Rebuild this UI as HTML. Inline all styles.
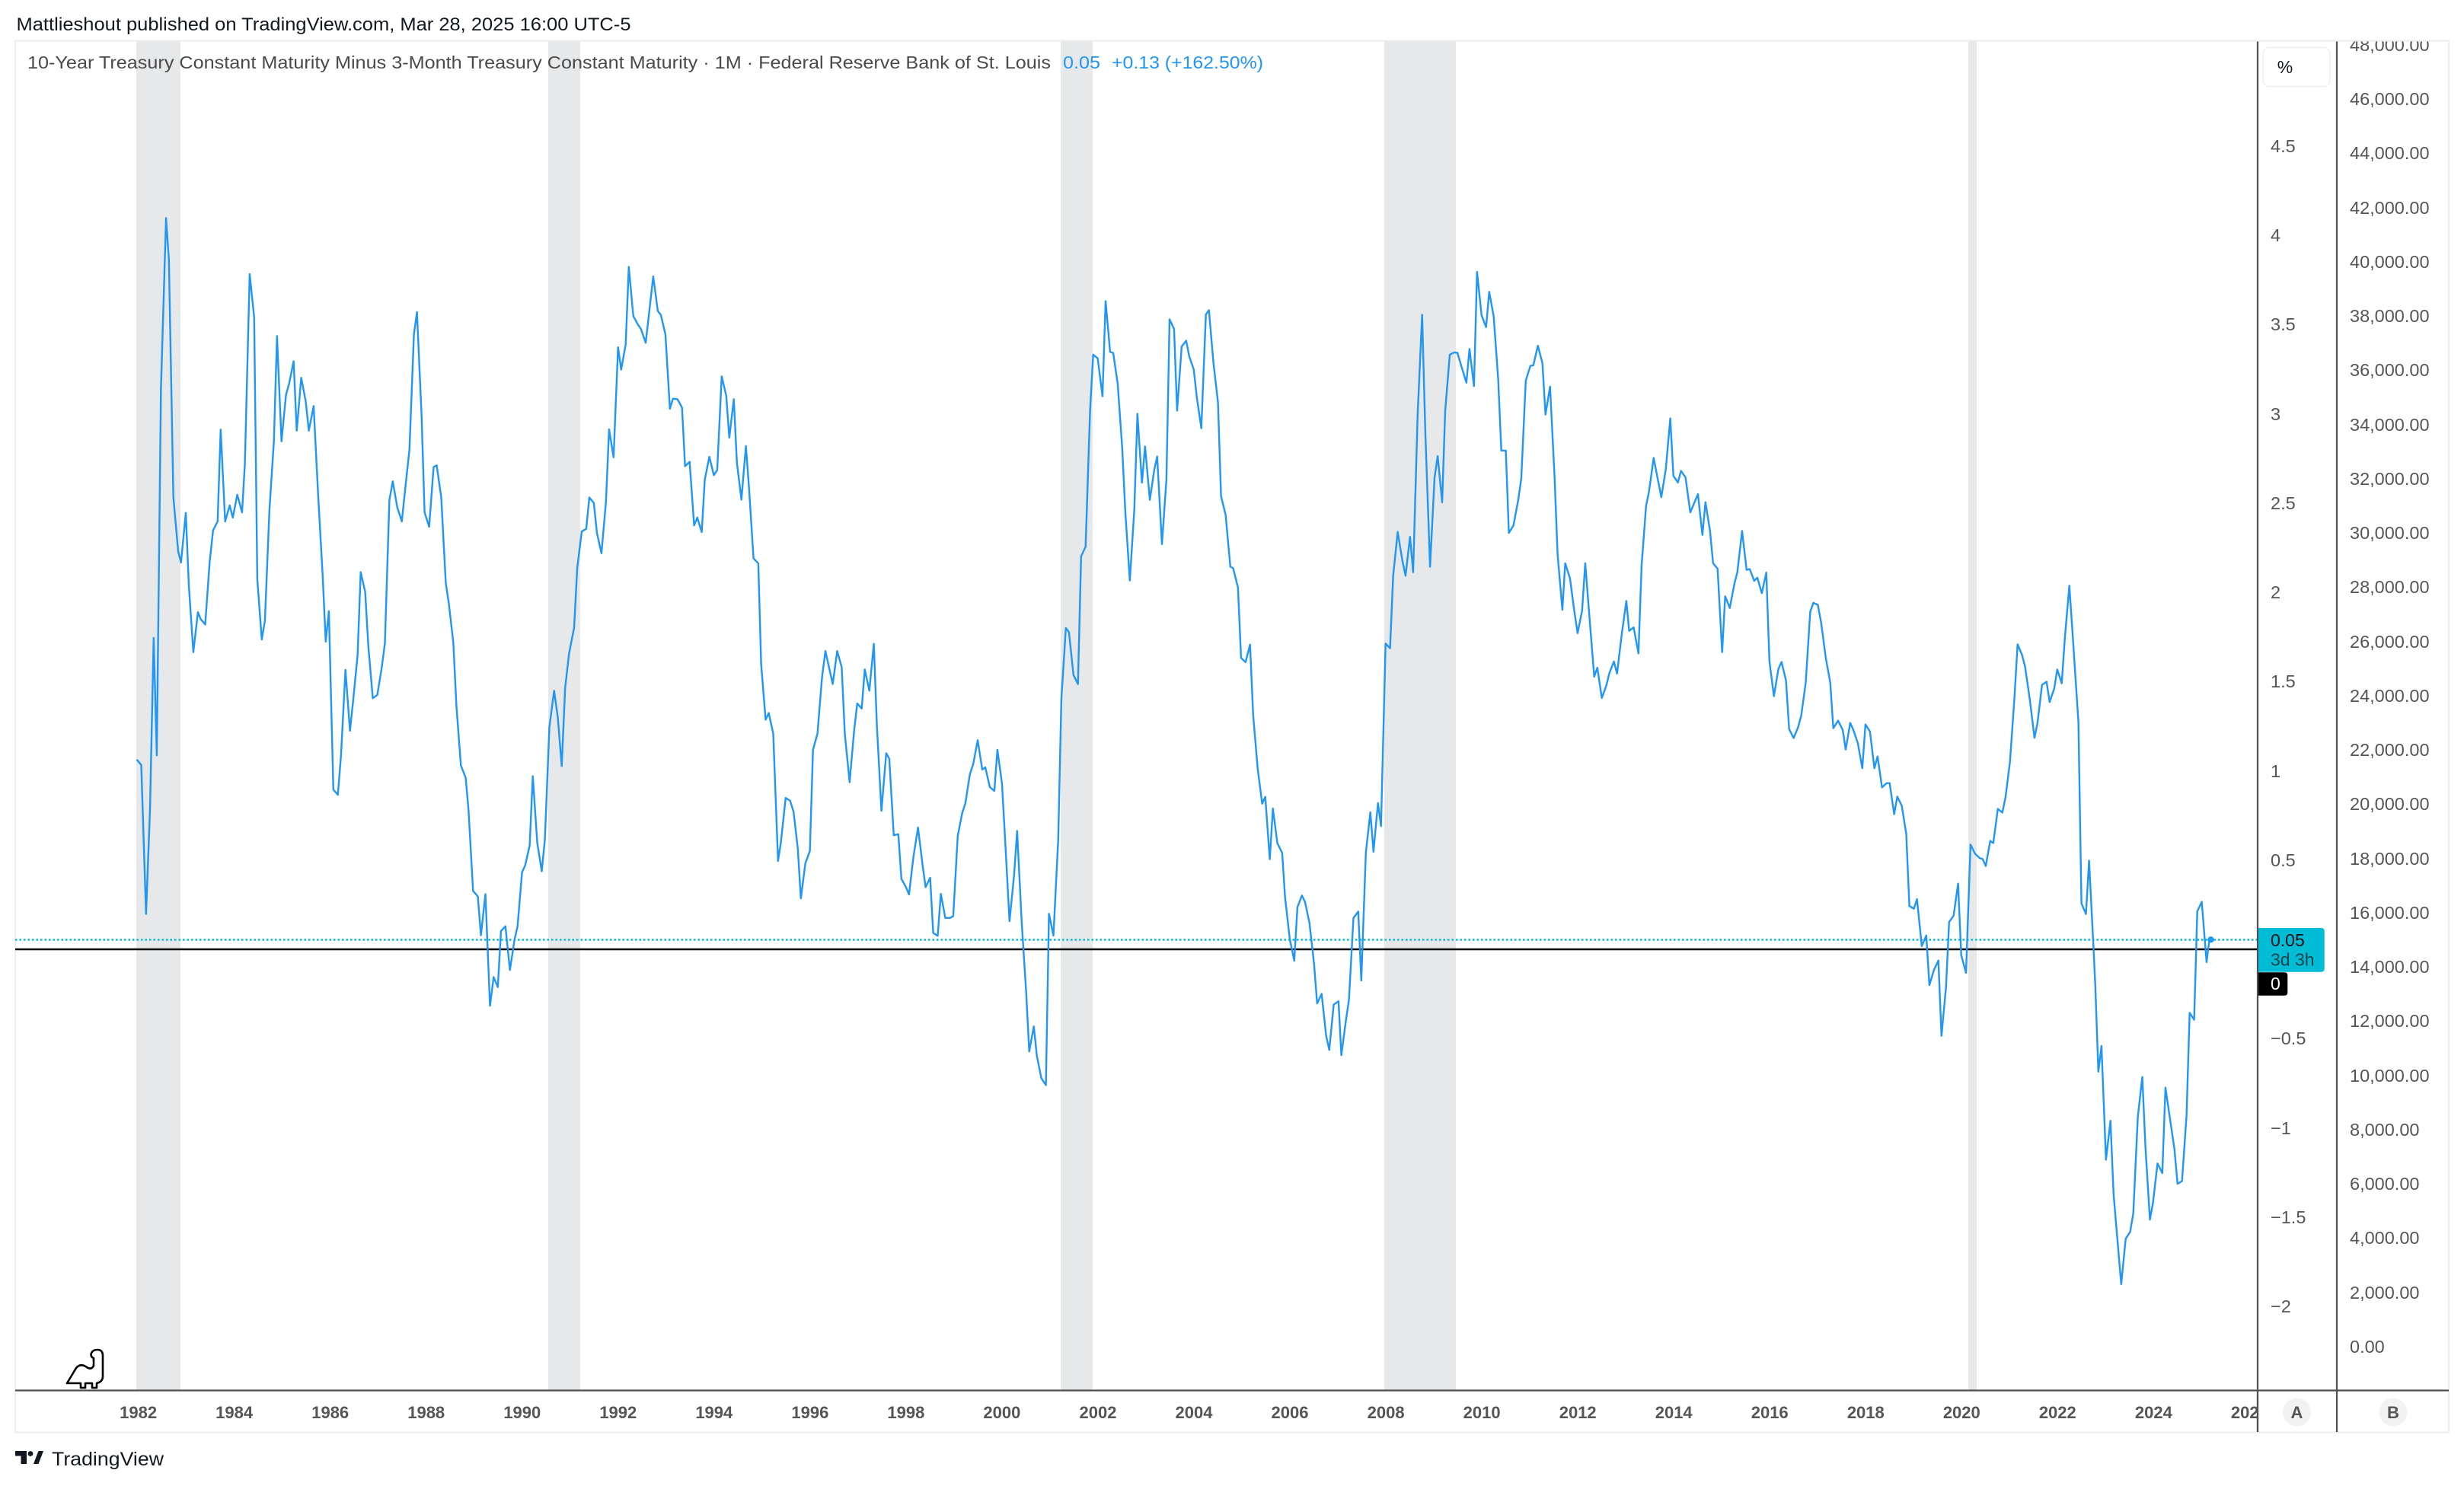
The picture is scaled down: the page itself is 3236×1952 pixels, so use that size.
<!DOCTYPE html>
<html><head><meta charset="utf-8"><style>
html,body{margin:0;padding:0;background:#fff;}
svg{display:block;}
text{font-family:"Liberation Sans",Arial,sans-serif;}
</style></head><body>
<svg width="3236" height="1952" viewBox="0 0 3236 1952" xmlns="http://www.w3.org/2000/svg">
<rect x="0" y="0" width="3236" height="1952" fill="#ffffff"/>
<!-- recession bands -->
<g fill="#e7e8ea">
<rect x="179" y="54" width="58" height="1772"/>
<rect x="720" y="54" width="42" height="1772"/>
<rect x="1393" y="54" width="42" height="1772"/>
<rect x="1818" y="54" width="94" height="1772"/>
<rect x="2585" y="54" width="11" height="1772"/>
</g>
<!-- frame -->
<rect x="20" y="53.5" width="3196" height="1828" fill="none" stroke="#eeeeee" stroke-width="2"/>
<!-- zero line and last value line -->
<line x1="20" y1="1247" x2="2965" y2="1247" stroke="#000" stroke-width="2.5"/>
<line x1="20" y1="1234.5" x2="2965" y2="1234.5" stroke="#00bcd4" stroke-width="2.5" stroke-dasharray="2.5 3"/>
<!-- series -->
<polyline fill="none" stroke="#2196f3" stroke-width="2.4" stroke-linejoin="round" points="
179.6,997.8 185.5,1004.8 191.8,1200.6 197.0,1063.8 201.8,837.9 205.9,992.2 211.4,509.6 218.1,286.5 221.8,341.2 227.7,653.4 234.0,724.2 237.7,739.0 244.0,673.7 248.0,769.1 253.9,856.8 259.9,804.2 263.6,813.3 269.5,820.3 275.4,737.6 279.8,696.9 285.8,684.9 289.8,564.3 295.7,684.9 301.7,663.9 305.7,680.0 311.6,649.9 317.9,673.0 321.6,609.2 327.9,360.1 333.8,417.0 337.9,760.7 343.8,840.0 347.9,815.4 353.8,670.9 359.7,579.7 363.8,441.5 369.7,579.7 375.6,518.7 379.7,504.0 385.6,474.5 389.7,565.7 395.6,496.2 401.5,527.1 405.6,565.7 411.9,533.4 417.8,649.9 423.7,755.1 427.8,842.8 431.9,802.8 437.8,1037.1 443.7,1044.1 447.8,992.9 453.7,880.0 459.6,959.9 463.7,921.4 469.6,861.0 473.7,751.6 479.6,777.5 483.7,848.4 489.6,917.2 495.5,912.9 501.4,876.5 505.5,844.9 511.4,656.9 515.8,632.3 521.8,666.7 527.7,684.9 533.6,628.8 537.7,590.9 543.6,439.4 547.6,409.9 553.6,544.6 557.6,673.0 563.6,692.0 569.5,613.4 573.5,611.3 579.5,653.4 585.4,765.6 589.4,792.3 595.4,844.9 599.4,927.0 605.3,1005.5 611.6,1021.7 615.3,1063.8 621.3,1170.4 627.5,1177.4 631.6,1228.6 637.5,1174.6 643.5,1321.2 648.3,1283.4 653.8,1296.7 657.9,1223.0 663.8,1216.7 669.7,1274.2 675.6,1235.0 679.7,1216.7 685.6,1145.9 689.7,1136.7 695.6,1110.8 699.7,1019.6 705.6,1107.3 711.5,1144.5 715.6,1102.4 721.5,955.0
727.7,907.3 732.6,942.5 737.7,1006.3 742.2,903.6 747.3,858.9 754.0,824.4 758.1,745.9 764.0,698.2 769.9,694.6 774.0,653.5 779.9,660.8 784.0,700.4 789.9,726.8 795.8,659.4 799.9,564.0 805.8,600.7 811.7,456.2 815.8,485.6 821.7,452.6 825.8,350.6 831.7,415.1 837.6,426.1 841.7,432.0 848.0,450.3 857.9,363.1 863.9,408.5 867.9,413.7 873.9,439.3 879.8,536.9 883.8,523.7 889.8,524.4 895.7,535.4 899.7,612.4 905.7,606.6 911.6,690.2 915.7,679.9 921.6,699.0 925.6,630.0 931.6,600.0 937.5,624.2 941.9,617.6 947.8,494.4 953.8,520.0 957.8,575.0 963.7,524.4 967.8,608.0 973.7,656.4 979.6,586.0 983.7,641.0 989.6,733.4 995.9,740.1 999.6,872.1 1005.5,945.4 1009.6,936.6 1015.5,963.7 1021.8,1131.0 1025.5,1106.8 1031.8,1048.1 1037.7,1051.8 1042.2,1066.4 1047.7,1114.1 1051.8,1180.1 1057.7,1133.9 1063.6,1117.8 1067.7,985.0 1073.6,963.7 1079.5,890.4 1084.0,855.2 1093.6,898.5 1099.5,855.2 1105.4,876.5 1109.5,963.7 1115.8,1027.5 1121.7,960.1 1125.8,924.1 1131.7,930.7 1135.7,879.4 1141.7,907.3 1147.6,845.7 1151.6,952.7 1157.6,1065.0 1163.9,989.4 1167.9,996.7 1173.8,1097.2 1179.8,1095.8 1183.8,1154.4 1189.8,1165.4 1193.8,1175.0 1199.7,1125.1 1205.6,1087.0 1211.6,1136.1 1215.6,1165.4 1221.6,1153.0 1225.6,1225.6 1231.5,1229.2 1235.6,1174.2 1241.5,1205.8 1247.5,1205.8 1251.9,1203.6 1257.8,1098.0 1263.7,1067.9 1267.8,1055.4 1273.7,1017.3
1278.1,1003.8 1284.0,972.3 1290.0,1010.8 1294.0,1008.0 1300.0,1034.0 1305.9,1038.9 1309.9,984.9 1315.9,1029.1 1319.9,1100.6 1325.8,1210.1 1331.8,1149.7 1335.8,1091.5 1341.7,1209.4 1347.7,1304.1 1351.7,1381.2 1357.7,1348.3 1361.7,1386.9 1367.6,1416.3 1373.6,1425.4 1377.6,1200.3 1383.5,1229.0 1389.8,1102.0 1393.9,918.2 1399.8,824.9 1403.9,830.5 1409.8,886.7 1415.7,898.6 1419.8,730.9 1425.7,718.3 1431.6,539.4 1435.7,465.8 1441.6,470.7 1447.9,520.5 1452.0,395.6 1457.9,462.2 1462.0,463.6 1467.9,504.3 1473.8,588.5 1477.9,672.7 1483.8,762.5 1489.7,669.2 1493.8,543.6 1499.7,634.1 1503.8,586.4 1510.1,656.6 1516.0,616.6 1519.7,599.7 1526.0,714.8 1531.9,629.2 1536.0,419.5 1541.9,432.1 1545.9,539.4 1551.9,455.2 1557.8,447.5 1561.8,467.9 1567.8,485.4 1571.8,521.9 1577.7,562.6 1583.7,413.1 1587.7,407.5 1593.6,476.3 1599.6,528.9 1603.6,651.7 1609.6,676.2 1615.8,744.3 1619.5,746.4 1625.8,771.6 1629.9,864.2 1635.8,869.8 1641.7,846.7 1645.8,939.3 1651.7,1009.4 1657.6,1055.7 1661.7,1046.6 1667.6,1128.7 1671.7,1062.1 1677.6,1107.7 1683.9,1120.3 1687.6,1177.8 1693.9,1233.9 1699.8,1262.0 1703.9,1191.8 1709.8,1176.4 1713.9,1184.8 1719.8,1212.9 1725.7,1265.5 1729.8,1318.1 1735.7,1305.5 1741.6,1360.2 1745.7,1379.1 1751.6,1319.5 1757.9,1315.3 1761.6,1386.2 1767.5,1341.3 1771.6,1313.2 1777.5,1205.9 1783.8,1197.4 1787.8,1287.9 1793.8,1119.6 1799.7,1067.0 1803.8,1118.9 1809.7,1055.0 1813.7,1085.2 1819.7,845.3 1825.6,851.6 1829.6,756.9 1835.6,698.7
1841.8,736.8 1845.9,756.2 1851.8,705.2 1855.9,751.6 1861.8,544.5 1867.7,413.4 1871.8,564.9 1878.1,744.5 1884.0,627.7 1888.1,599.1 1894.0,659.8 1898.0,539.4 1904.0,465.9 1909.9,462.9 1914.0,463.4 1919.9,483.3 1925.8,502.7 1929.9,458.3 1935.8,507.2 1939.8,357.2 1945.8,414.4 1951.7,429.7 1955.8,383.3 1961.7,415.9 1967.6,498.6 1971.7,591.9 1977.6,591.9 1981.6,700.1 1987.6,690.4 1993.9,656.7 1997.9,628.7 2003.8,500.1 2009.8,480.7 2013.8,479.7 2019.7,454.2 2025.7,477.1 2029.7,544.5 2035.7,507.8 2041.6,626.1 2045.6,728.2 2051.9,801.1 2055.6,739.9 2061.9,759.8 2067.8,804.7 2071.9,831.7 2077.8,802.1 2081.9,739.9 2087.8,814.9 2093.7,888.9 2097.8,877.1 2103.7,916.9 2109.6,900.6 2113.7,883.8 2119.6,869.0 2123.7,884.8 2129.6,835.3 2135.9,789.4 2139.6,828.7 2145.5,824.1 2151.8,858.3 2155.9,743.5 2161.8,664.4 2165.5,646.5 2171.8,601.6 2177.7,632.2 2181.8,653.2 2187.7,616.4 2193.6,549.6 2197.7,625.1 2203.6,633.8 2207.7,618.5 2213.6,627.1 2219.9,673.1 2229.9,649.1 2235.8,702.7 2239.8,659.8 2245.8,697.5 2249.8,739.9 2255.7,747.0 2261.7,856.7 2265.7,783.3 2271.7,798.6 2277.9,766.4 2281.6,752.1 2287.9,697.5 2293.8,748.6 2297.9,747.5 2303.8,762.9 2307.9,758.8 2313.8,779.2 2319.7,752.1 2323.8,868.5 2329.7,914.4 2335.6,878.7 2339.7,869.5 2345.6,894.0 2349.7,957.8 2355.6,969.5 2361.5,955.2 2365.6,939.9 2371.5,896.5 2377.4,803.7 2381.5,791.9 2387.4,794.5
2391.8,818.4 2397.8,864.0 2403.7,896.9 2407.7,956.6 2414.0,946.7 2420.0,958.7 2424.0,984.6 2429.9,949.6 2434.0,958.7 2439.9,976.2 2445.8,1009.2 2449.9,951.7 2455.8,960.8 2461.7,1009.2 2465.8,993.7 2471.7,1034.4 2477.7,1028.8 2481.7,1028.8 2487.6,1069.5 2491.7,1046.4 2497.6,1058.3 2503.5,1095.5 2507.6,1190.2 2513.5,1193.7 2517.6,1181.1 2523.9,1242.8 2529.8,1228.8 2533.9,1294.0 2539.8,1274.4 2545.7,1261.7 2549.8,1360.7 2555.7,1296.8 2559.8,1211.2 2565.7,1202.8 2571.6,1160.7 2575.7,1254.7 2582.0,1277.9 2587.9,1109.5 2593.8,1121.4 2599.7,1127.0 2603.8,1128.4 2607.9,1137.6 2613.8,1104.6 2617.8,1107.4 2623.8,1062.5 2629.7,1067.4 2633.8,1047.8 2639.7,1000.8 2645.6,916.6 2649.7,846.4 2655.6,860.5 2659.6,875.9 2665.9,920.1 2671.9,969.2 2675.9,949.6 2681.8,899.7 2687.8,895.5 2691.8,922.2 2697.8,904.7 2701.8,879.4 2707.7,897.6 2711.8,838.0 2717.7,769.3 2723.6,857.0 2729.6,948.2 2733.6,1186.7 2739.5,1200.7 2743.6,1130.5 2749.5,1246.3 2751.8,1295.4 2755.8,1407.7 2759.9,1374.0 2765.8,1523.4 2771.7,1472.2 2775.8,1569.0 2785.8,1686.9 2791.7,1627.2 2797.6,1618.1 2801.7,1593.6 2807.6,1467.3 2813.5,1414.7 2817.6,1505.9 2823.5,1602.0 2827.6,1579.5 2833.5,1528.3 2839.8,1540.9 2843.9,1428.7 2855.7,1509.4 2859.8,1555.0 2865.7,1551.5 2871.6,1465.2 2875.7,1330.5 2881.6,1339.6 2885.7,1197.2 2891.6,1184.6 2897.9,1263.8 2901.6,1234.4 2904.5,1234.0"/>
<circle cx="2903.5" cy="1234.3" r="4.2" fill="#2196f3"/>

<!-- axis lines -->
<line x1="20" y1="1826.5" x2="3216" y2="1826.5" stroke="#505050" stroke-width="2.2"/>
<line x1="2965" y1="54" x2="2965" y2="1881" stroke="#505050" stroke-width="2.2"/>
<line x1="3069" y1="54" x2="3069" y2="1881" stroke="#505050" stroke-width="2.2"/>

<!-- time axis labels -->
<g font-size="22" font-weight="bold" fill="#555" text-anchor="middle">
<text x="181.6" y="1863">1982</text>
<text x="307.6" y="1863">1984</text>
<text x="433.7" y="1863">1986</text>
<text x="559.7" y="1863">1988</text>
<text x="685.8" y="1863">1990</text>
<text x="811.8" y="1863">1992</text>
<text x="937.8" y="1863">1994</text>
<text x="1063.9" y="1863">1996</text>
<text x="1189.9" y="1863">1998</text>
<text x="1315.9" y="1863">2000</text>
<text x="1442.0" y="1863">2002</text>
<text x="1568.0" y="1863">2004</text>
<text x="1694.0" y="1863">2006</text>
<text x="1820.1" y="1863">2008</text>
<text x="1946.1" y="1863">2010</text>
<text x="2072.2" y="1863">2012</text>
<text x="2198.2" y="1863">2014</text>
<text x="2324.2" y="1863">2016</text>
<text x="2450.3" y="1863">2018</text>
<text x="2576.3" y="1863">2020</text>
<text x="2702.3" y="1863">2022</text>
<text x="2828.4" y="1863">2024</text>
<text x="2954.4" y="1863">2026</text>
</g>
<rect x="2966.2" y="1828" width="248.6" height="52" fill="#fff"/>
<line x1="2965" y1="1827" x2="2965" y2="1881" stroke="#505050" stroke-width="2.2"/>
<line x1="3069" y1="1827" x2="3069" y2="1881" stroke="#505050" stroke-width="2.2"/>
<circle cx="3016.5" cy="1855" r="18.5" fill="#f2f2f2"/>
<circle cx="3143" cy="1855" r="18.5" fill="#f2f2f2"/>
<g font-size="22" font-weight="bold" fill="#555" text-anchor="middle">
<text x="3016.5" y="1863">A</text>
<text x="3143" y="1863">B</text>
</g>

<!-- left price scale A -->
<g font-size="23.5" fill="#555">
<text x="2982" y="200">4.5</text>
<text x="2982" y="317">4</text>
<text x="2982" y="434">3.5</text>
<text x="2982" y="552">3</text>
<text x="2982" y="669">2.5</text>
<text x="2982" y="786">2</text>
<text x="2982" y="903">1.5</text>
<text x="2982" y="1021">1</text>
<text x="2982" y="1138">0.5</text>
<text x="2982" y="1372">−0.5</text>
<text x="2982" y="1490">−1</text>
<text x="2982" y="1607">−1.5</text>
<text x="2982" y="1724">−2</text>
</g>
<!-- right scale B -->
<g font-size="23.5" fill="#555">
<text x="3086" y="67">48,000.00</text>
<text x="3086" y="138">46,000.00</text>
<text x="3086" y="209">44,000.00</text>
<text x="3086" y="281">42,000.00</text>
<text x="3086" y="352">40,000.00</text>
<text x="3086" y="423">38,000.00</text>
<text x="3086" y="494">36,000.00</text>
<text x="3086" y="566">34,000.00</text>
<text x="3086" y="637">32,000.00</text>
<text x="3086" y="708">30,000.00</text>
<text x="3086" y="779">28,000.00</text>
<text x="3086" y="851">26,000.00</text>
<text x="3086" y="922">24,000.00</text>
<text x="3086" y="993">22,000.00</text>
<text x="3086" y="1064">20,000.00</text>
<text x="3086" y="1136">18,000.00</text>
<text x="3086" y="1207">16,000.00</text>
<text x="3086" y="1278">14,000.00</text>
<text x="3086" y="1349">12,000.00</text>
<text x="3086" y="1421">10,000.00</text>
<text x="3086" y="1492">8,000.00</text>
<text x="3086" y="1563">6,000.00</text>
<text x="3086" y="1634">4,000.00</text>
<text x="3086" y="1706">2,000.00</text>
<text x="3086" y="1777">0.00</text>
</g>
<!-- clip top -->
<rect x="2960" y="0" width="276" height="52.5" fill="#fff"/>
<line x1="2960" y1="53.5" x2="3216" y2="53.5" stroke="#eeeeee" stroke-width="2"/>

<!-- % box -->
<rect x="2972" y="62.5" width="88" height="51" rx="8" fill="#fff" stroke="#eeeeee" stroke-width="1.5"/>
<text x="3001" y="96" font-size="23" fill="#131722" text-anchor="middle">%</text>

<!-- price badges -->
<path d="M2966,1219 H3048.5 Q3052.7,1219 3052.7,1223.2 V1272.5 Q3052.7,1276.7 3048.5,1276.7 H2966 Z" fill="#00bcd4"/>
<text x="2982" y="1243" font-size="23" fill="#0b0e14">0.05</text>
<text x="2982" y="1268.5" font-size="23" fill="#15414a">3d 3h</text>
<path d="M2966,1277.3 H3000.3 Q3004.3,1277.3 3004.3,1281.3 V1303.7 Q3004.3,1307.7 3000.3,1307.7 H2966 Z" fill="#000"/>
<text x="2982" y="1300" font-size="23" fill="#fff">0</text>

<!-- header texts -->
<text x="21.5" y="40" font-size="24" fill="#131722" textLength="807" lengthAdjust="spacingAndGlyphs">Mattlieshout published on TradingView.com, Mar 28, 2025 16:00 UTC-5</text>
<text x="36" y="90" font-size="23" fill="#4a4a4a" textLength="1344" lengthAdjust="spacingAndGlyphs">10-Year Treasury Constant Maturity Minus 3-Month Treasury Constant Maturity · 1M · Federal Reserve Bank of St. Louis</text>
<text x="1396" y="90" font-size="23" fill="#2196f3" textLength="49" lengthAdjust="spacingAndGlyphs">0.05</text>
<text x="1460" y="90" font-size="23" fill="#2196f3" textLength="199" lengthAdjust="spacingAndGlyphs">+0.13 (+162.50%)</text>

<!-- dino -->
<path d="M88,1817 L100,1797 Q106,1790 114,1796 Q120,1800 123,1794 L123,1784 Q119.5,1783 119.5,1779 Q121,1773 128,1773 Q135,1773 135,1781 L135,1808 Q135,1815 127,1817 L127,1823 L121,1823 L121,1817 L112,1817 L112,1823 L106,1823 L106,1817 Z" fill="#fff" stroke="#000" stroke-width="2.6" stroke-linejoin="round"/>

<!-- TradingView logo -->
<path d="M20,1906 H35 V1923 H27.5 V1912.5 H20 Z" fill="#131722"/>
<circle cx="40" cy="1909.5" r="3.4" fill="#131722"/>
<path d="M44,1923 L50.5,1906 H57 L50.5,1923 Z" fill="#131722"/>
<text x="68" y="1925" font-size="25" fill="#131722" textLength="147" lengthAdjust="spacingAndGlyphs">TradingView</text>
</svg>
</body></html>
